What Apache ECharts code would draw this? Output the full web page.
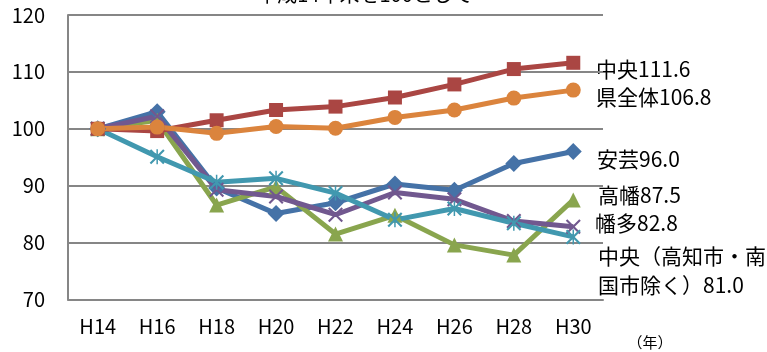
<!DOCTYPE html>
<html>
<head>
<meta charset="utf-8">
<script src="https://cdn.jsdelivr.net/npm/echarts@6/dist/echarts.min.js"></script>
<style>
  html, body { margin: 0; padding: 0; background: #ffffff; }
  #chart { width: 767px; height: 352px; }
</style>
</head>
<body>
<div id="chart"></div>
<script>
// Categories (year, Heisei era)
const categories = ['H14', 'H16', 'H18', 'H20', 'H22', 'H24', 'H26', 'H28', 'H30'];

// Index values (H14 year-end = 100)
const akiValues      = [100, 103.0, 89.6, 85.1, 87.0, 90.3, 89.2, 93.9, 96.0];
const takahataValues = [100, 101.5, 86.6, 89.8, 81.5, 84.8, 79.6, 77.8, 87.5];
const hataValues     = [100, 102.2, 89.3, 88.1, 84.9, 88.8, 87.6, 83.8, 82.8];
const chuoExclValues = [100, 95.1, 90.6, 91.3, 88.7, 84.0, 86.0, 83.4, 81.0];
const chuoValues     = [100, 99.6, 101.5, 103.3, 103.9, 105.5, 107.8, 110.5, 111.6];
const prefValues     = [100, 100.3, 99.2, 100.4, 100.1, 102.0, 103.3, 105.4, 106.8];

// Y axis ticks
const yTicks = [70, 80, 90, 100, 110, 120];

const titleText = '平成14年末を100として';
const unitText = '（年）';

const FONT = '"Noto Sans CJK JP", "Noto Sans", sans-serif';
const GRAY = '#868686';

// Marker shapes
const xMark = 'path://M0,2L2,0L10,8L18,0L20,2L12,10L20,18L18,20L10,12L2,20L0,18L8,10Z';
const starMark = 'path://M0,2L2,0L10,8L18,0L20,2L12,10L20,18L18,20L10,12L2,20L0,18L8,10Z M9,0L11,0L11,20L9,20Z';

// Drawing order: later series sit on top
const seriesDefs = [
  { name: '安芸', label: '安芸', data: akiValues, color: '#4572A7', symbol: 'diamond', size: 17 },
  { name: '高幡', label: '高幡', data: takahataValues, color: '#89A54E', symbol: 'triangle', size: 15 },
  { name: '幡多', label: '幡多', data: hataValues, color: '#71588F', symbol: xMark, size: 15 },
  { name: '中央（高知市・南国市除く）', label: '中央（高知市・南\n国市除く）', data: chuoExclValues, color: '#4198AF', symbol: starMark, size: 15 },
  { name: '中央', label: '中央', data: chuoValues, color: '#AA4643', symbol: 'rect', size: 14 },
  { name: '県全体', label: '県全体', data: prefValues, color: '#DB843D', symbol: 'circle', size: 15 }
];

// End-of-line label anchors (pixel layout)
const labelPos = {
  '中央': [596, 69],
  '県全体': [596, 97],
  '安芸': [597, 159],
  '高幡': [598, 195],
  '幡多': [595, 223],
  '中央（高知市・南国市除く）': [598, 271]
};

const chart = echarts.init(document.getElementById('chart'), null, { renderer: 'canvas' });

const option = {
  animation: false,
  backgroundColor: '#ffffff',
  grid: { left: 68, right: 164, top: 15, bottom: 52.5, containLabel: false },
  xAxis: {
    type: 'category',
    data: categories,
    boundaryGap: true,
    axisLine: { lineStyle: { color: GRAY, width: 2 } },
    axisTick: { inside: true, length: 5, lineStyle: { color: GRAY, width: 2 } },
    axisLabel: { color: '#000', fontSize: 20, fontFamily: FONT, margin: 17 },
    splitLine: { show: false }
  },
  yAxis: {
    type: 'value',
    min: yTicks[0],
    max: yTicks[yTicks.length - 1],
    interval: 10,
    axisLine: { show: true, lineStyle: { color: GRAY, width: 2 } },
    axisTick: { show: false },
    axisLabel: { color: '#000', fontSize: 20, fontFamily: FONT, margin: 23 },
    splitLine: { show: true, lineStyle: { color: GRAY, width: 2 } }
  },
  series: seriesDefs.map(d => ({
    name: d.name,
    type: 'line',
    data: d.data,
    symbol: d.symbol,
    symbolSize: d.size,
    showAllSymbol: true,
    lineStyle: { color: d.color, width: 5 },
    itemStyle: { color: d.color, borderWidth: 0 },
    emphasis: { disabled: true }
  })),
  graphic: [
    {
      type: 'text',
      style: { text: titleText, x: 365, y: -6, align: 'center', verticalAlign: 'middle', fontSize: 20, fontFamily: FONT, fill: '#000' }
    },
    {
      type: 'text',
      style: { text: unitText, x: 650, y: 342, align: 'center', verticalAlign: 'middle', fontSize: 15, fontFamily: FONT, fill: '#000' }
    }
  ].concat(seriesDefs.map(d => {
    const p = labelPos[d.name];
    const last = d.data[d.data.length - 1];
    return {
      type: 'text',
      style: {
        text: d.label + last.toFixed(1),
        x: p[0], y: p[1],
        align: 'left', verticalAlign: 'middle',
        fontSize: 21, lineHeight: 29, fontFamily: FONT, fill: '#000'
      }
    };
  }))
};

chart.setOption(option);
</script>
</body>
</html>
